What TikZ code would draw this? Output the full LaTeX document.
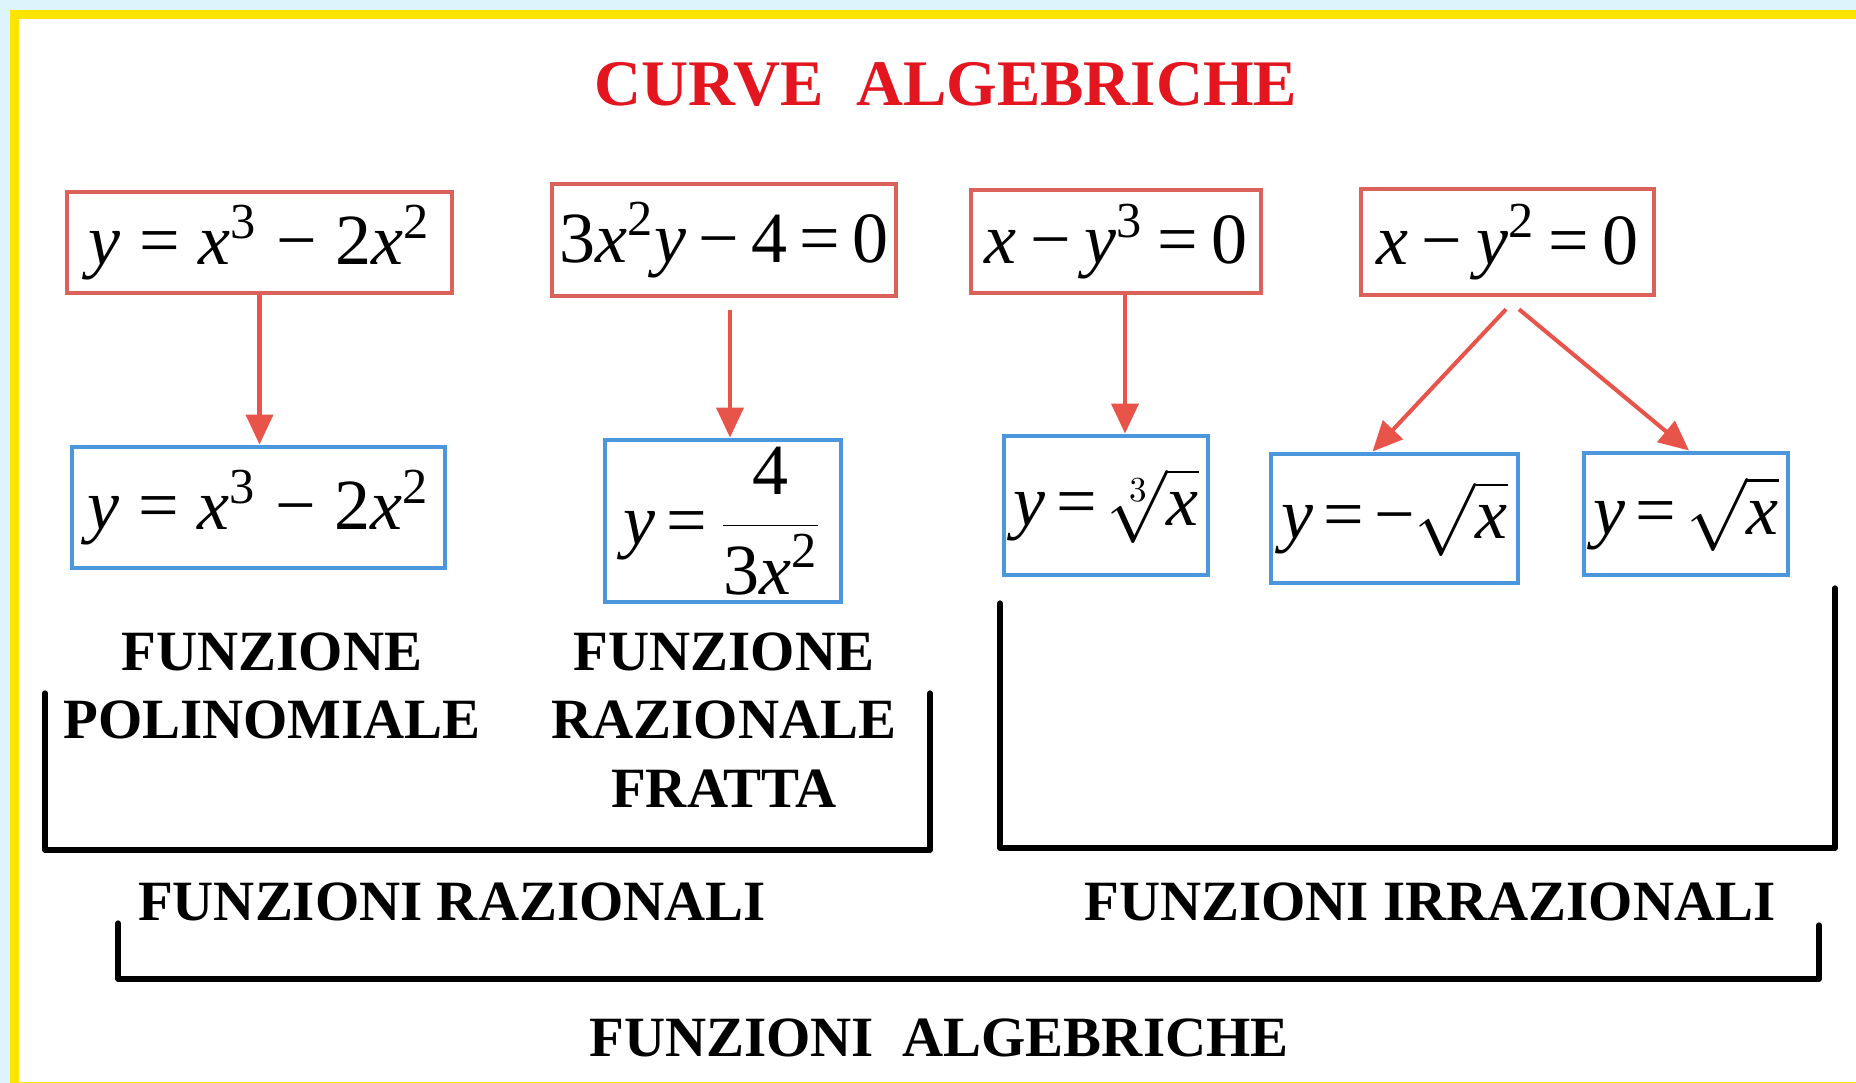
\documentclass[tikz,border=0pt]{standalone}
\usepackage{fontspec}
\setmainfont{Liberation Serif}
\usetikzlibrary{arrows.meta,positioning,calc}
\definecolor{cTitle}{HTML}{E3161F}
\definecolor{cRedBox}{HTML}{DB6159}
\definecolor{cArrow}{HTML}{E8534A}
\definecolor{cBlueBox}{HTML}{4C96DE}
\definecolor{cSky}{HTML}{DDF4FD}
\definecolor{cYellow}{HTML}{FFE400}
\newcommand{\xv}{\textit{x}}
\newcommand{\yv}{\textit{y}}
\newcommand{\gapfac}{0.26}
\newcommand{\eqgap}{\hspace{\gapfac em}}

\begin{document}
\begin{tikzpicture}[
  >=Triangle,
  eqfont/.style={font=\fontsize{20.5}{24}\selectfont},
  gapw/.style={execute at begin node={\def\gapfac{#1}}},
  rbox/.style={draw=cRedBox, fill=white, line width=1.3pt, inner sep=2pt,
               eqfont},
  bbox/.style={draw=cBlueBox, fill=white, line width=1.4pt, inner sep=2pt,
               eqfont},
  lbl/.style={font=\fontsize{16.2}{19.5}\selectfont\bfseries, align=center,
              inner sep=0pt, anchor=north},
  arr/.style={-{Triangle[length=0.3cm,width=0.27cm]}, line width=1.15pt,
              color=cArrow},
  brk/.style={line width=1.5pt, line join=round, line cap=round},
]

% ---- Frame ----
\fill[cSky] (0,0) rectangle (18.56,-10.83);
\fill[cYellow] (0.10,-0.10) rectangle (18.56,-10.83);
\fill[white] (0.19,-0.19) rectangle (18.56,-10.82);

% ---- Title ----
\node[font=\fontsize{18.5}{22}\selectfont\bfseries, text=cTitle,
      inner sep=0pt, anchor=north] (title) at (9.46,-0.62)
  {CURVE\ \ ALGEBRICHE};

% ---- Curves ----
\node[rbox, minimum width=3.85cm, minimum height=1.01cm] (polyCurve)
  at (2.595,-2.425)
  {\yv\eqgap=\eqgap\xv\textsuperscript{3}\eqgap−\eqgap2\xv\textsuperscript{2}};
\node[rbox, gapw=0.17, minimum width=3.44cm, minimum height=1.12cm] (fracCurve)
  at (7.24,-2.40)
  {3\xv\textsuperscript{2}\yv\eqgap−\eqgap4\eqgap=\eqgap0};
\node[rbox, gapw=0.19, minimum width=2.90cm, minimum height=1.03cm] (cubeCurve)
  at (11.16,-2.415)
  {\xv\eqgap−\eqgap\yv\textsuperscript{3}\eqgap=\eqgap0};
\node[rbox, gapw=0.19, minimum width=2.93cm, minimum height=1.06cm] (sqCurve)
  at (15.075,-2.42)
  {\xv\eqgap−\eqgap\yv\textsuperscript{2}\eqgap=\eqgap0};

% ---- Functions ----
\node[bbox, minimum width=3.73cm, minimum height=1.21cm] (polyFun)
  at (2.585,-5.075)
  {\yv\eqgap=\eqgap\xv\textsuperscript{3}\eqgap−\eqgap2\xv\textsuperscript{2}};
\node[bbox, gapw=0.16, minimum width=2.36cm, minimum height=1.62cm] (fracFun)
  at (7.23,-5.21)
  {\yv\eqgap=\eqgap$\displaystyle\frac{\mbox{4}}{\mbox{3\xv\textsuperscript{2}}}$};
\node[bbox, gapw=0.16, minimum width=2.04cm, minimum height=1.39cm] (cbrtFun)
  at (11.06,-5.055) {\yv\eqgap=\eqgap$\sqrt[3]{\xv}$};
\node[bbox, gapw=0.14, minimum width=2.47cm, minimum height=1.29cm] (negSqrtFun)
  at (13.945,-5.185) {\yv\eqgap=\eqgap−$\sqrt{\xv}$};
\node[bbox, gapw=0.14, minimum width=2.04cm, minimum height=1.22cm] (sqrtFun)
  at (16.86,-5.14) {\yv\eqgap=\eqgap$\sqrt{\xv}$};

% ---- Arrows ----
\draw[arr] (polyCurve.south) -- (polyCurve.south |- polyFun.north);

\coordinate (fracTop) at ([xshift=0.06cm,yshift=-0.12cm]fracCurve.south);
\draw[arr] (fracTop) -- (fracTop |- fracFun.north);

\coordinate (cubeTop) at ([xshift=0.09cm]cubeCurve.south);
\draw[arr] (cubeTop) -- (cubeTop |- cbrtFun.north);

\coordinate (sqLeft) at ([xshift=-0.015cm,yshift=-0.12cm]sqCurve.south);
\coordinate (sqRight) at ([xshift=0.115cm,yshift=-0.12cm]sqCurve.south);
\draw[arr] (sqLeft) -- ([xshift=-0.22cm]negSqrtFun.north);
\draw[arr] (sqRight) -- ([xshift=0.03cm]sqrtFun.north);

% ---- Labels ----
\node[lbl] (polyLbl) at (2.72,-6.32) {FUNZIONE\\POLINOMIALE};
\node[lbl] (fracLbl) at (7.24,-6.32) {FUNZIONE\\RAZIONALE\\FRATTA};

% ---- Brackets ----
\draw[brk] (0.45,-6.93) |- (9.30,-8.50) -- (9.30,-6.93);
\draw[brk] (10.00,-6.03) |- (18.35,-8.48) -- (18.35,-5.88);
\draw[brk] (1.18,-9.23) |- (18.19,-9.79) -- (18.19,-9.25);

\node[lbl] (ratLbl) at (4.52,-8.82) {FUNZIONI RAZIONALI};
\node[lbl] (irrLbl) at (14.30,-8.82) {FUNZIONI IRRAZIONALI};
\node[lbl] (algLbl) at (9.39,-10.18) {FUNZIONI\ \ ALGEBRICHE};

\end{tikzpicture}
\end{document}
